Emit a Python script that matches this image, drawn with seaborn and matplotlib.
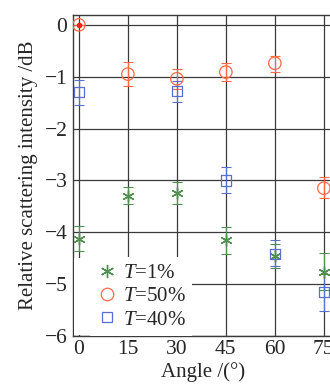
import numpy as np
import pandas as pd
import matplotlib
matplotlib.use("Agg")
import matplotlib.pyplot as plt
import seaborn as sns
from matplotlib.lines import Line2D
from matplotlib.patches import Rectangle

angles = [0, 15, 30, 45, 60, 75]

# T=1% (green asterisks)
t1_val = [-4.12, -3.30, -3.25, -4.15, -4.46, -4.77]
t1_hi = [-3.88, -3.13, -3.03, -3.90, -4.22, -4.40]
t1_lo = [-4.37, -3.46, -3.46, -4.42, -4.68, -5.12]

# T=50% (orange circles)
t50_val = [0.0, -0.95, -1.04, -0.91, -0.74, -3.15]
t50_hi = [0.0, -0.71, -0.85, -0.74, -0.60, -2.93]
t50_lo = [0.0, -1.18, -1.24, -1.08, -0.90, -3.34]

# T=40% (blue squares), no point at 15
t40_angles = [0, 30, 45, 60, 75]
t40_val = [-1.30, -1.28, -3.00, -4.42, -5.15]
t40_hi = [-1.06, -1.08, -2.74, -4.15, -4.80]
t40_lo = [-1.55, -1.49, -3.25, -4.65, -5.52]

labels = ["$T$=1%", "$T$=50%", "$T$=40%"]
colors = ["#4f8f4f", "#ff6a45", "#5a6ed0"]

sns.set_style("white")
plt.rcParams["font.family"] = ["Liberation Serif", "DejaVu Serif"]
plt.rcParams["mathtext.fontset"] = "custom"
plt.rcParams["mathtext.it"] = "Liberation Serif:italic"
plt.rcParams["mathtext.rm"] = "Liberation Serif"
plt.rcParams["axes.unicode_minus"] = True

fig = plt.figure(figsize=(3.3, 3.85), dpi=100)
ax = fig.add_axes([73 / 330, 1 - 336 / 385, 260 / 330, 321 / 385])

series = [
    (angles, t1_val, t1_hi, t1_lo, (6, 2, 0), 65, colors[0]),
    (angles, t50_val, t50_hi, t50_lo, "o", 80, colors[1]),
    (t40_angles, t40_val, t40_hi, t40_lo, "s", 55, colors[2]),
]

for x, v, hi, lo, mk, sz, c in series:
    v = np.array(v)
    yerr = [v - np.array(lo), np.array(hi) - v]
    ax.errorbar(x, v, yerr=yerr, fmt="none", ecolor=c, elinewidth=0.8,
                capsize=3.5, capthick=0.8, zorder=3)
    df = pd.DataFrame({"angle": x, "value": v})
    if mk == "o" or mk == "s":
        sns.scatterplot(data=df, x="angle", y="value", marker=mk, s=sz,
                        facecolors="none", edgecolors=c, linewidths=0.9,
                        ax=ax, zorder=4)
    else:
        sns.scatterplot(data=df, x="angle", y="value", marker=mk, s=sz,
                        color=c, linewidths=1.0, ax=ax, zorder=4)

# reference point at origin
ax.plot([0], [0], "o", color="#ee2020", ms=3, zorder=5)

ax.set_xlim(-1.8, 77.8)
ax.set_ylim(-6, 0.19)
ax.set_xticks([0, 15, 30, 45, 60, 75])
ax.set_yticks([0, -1, -2, -3, -4, -5, -6])
ax.grid(True, color="#3a3a3a", linewidth=0.9)
for s in ax.spines.values():
    s.set_color("#3a3a3a")
    s.set_linewidth(1.0)
ax.tick_params(direction="in", labelsize=15.5, pad=3, length=5, color="#3a3a3a")
ax.tick_params(axis="y", pad=4)
ax.set_xlabel("Angle /(°)", fontsize=15, labelpad=2)
ax.set_ylabel("Relative scattering intensity /dB", fontsize=15, labelpad=5)

handles = [
    Line2D([], [], marker=(6, 2, 0), linestyle="none", color=colors[0], ms=9.5, mew=1.0),
    Line2D([], [], marker="o", linestyle="none", mfc="none", mec=colors[1], ms=9, mew=0.9),
    Line2D([], [], marker="s", linestyle="none", mfc="none", mec=colors[2], ms=7.5, mew=0.9),
]
leg = ax.legend(handles, labels, loc="lower left", fontsize=15, frameon=True,
                framealpha=1, facecolor="white", edgecolor="none",
                borderaxespad=0, handlelength=1.0, handletextpad=0.25,
                labelspacing=0.18, borderpad=0.3, fancybox=False,
                bbox_to_anchor=(0.067, 0.0))
leg.set_zorder(6)

# white strip so the legend's blank area reaches the left spine
legend_gap = Rectangle((0.004, 0.004), 0.07, 0.24, transform=ax.transAxes,
                       facecolor="white", edgecolor="none", zorder=5.5)
ax.add_patch(legend_gap)

fig.savefig("out.png", dpi=100)
